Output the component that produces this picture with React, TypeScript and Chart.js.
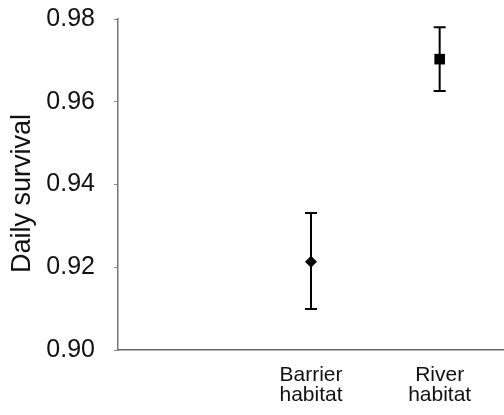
import React, { useEffect, useRef } from "react";
import { Chart, registerables } from "chart.js";

Chart.register(...registerables);

const categories = ["", "Barrier habitat", "River habitat"];
const survival = [null, 0.9213, 0.9703];
const lower = [null, 0.9099, 0.9626];
const upper = [null, 0.9331, 0.978];
const markerStyles = ["circle", "rectRot", "rect"];
const markerSizes = [0, 6, 7.5];
const yTicks = [0.9, 0.92, 0.94, 0.96, 0.98];
const yTitle = "Daily survival";

const FONT = "'Liberation Sans', Arial, Helvetica, sans-serif";

const errorBarPlugin = {
  id: "errorBars",
  beforeDatasetsDraw(chart: any) {
    const { ctx } = chart;
    const xs = chart.scales.x;
    const ys = chart.scales.y;
    ctx.save();
    ctx.strokeStyle = "#000";
    ctx.lineWidth = 2;
    for (let i = 0; i < categories.length; i++) {
      const lo = lower[i];
      const hi = upper[i];
      if (lo == null || hi == null) continue;
      const x = xs.getPixelForValue(i);
      const yl = ys.getPixelForValue(lo);
      const yh = ys.getPixelForValue(hi);
      const cap = 6;
      ctx.beginPath();
      ctx.moveTo(x, yl);
      ctx.lineTo(x, yh);
      ctx.moveTo(x - cap, yl);
      ctx.lineTo(x + cap, yl);
      ctx.moveTo(x - cap, yh);
      ctx.lineTo(x + cap, yh);
      ctx.stroke();
    }
    ctx.restore();
  },
};

const yTitlePlugin = {
  id: "yTitle",
  afterDraw(chart: any) {
    const { ctx } = chart;
    const area = chart.chartArea;
    ctx.save();
    ctx.translate(22.5, (area.top + area.bottom) / 2 + 9);
    ctx.rotate(-Math.PI / 2);
    ctx.font = `27px ${FONT}`;
    ctx.fillStyle = "#111";
    ctx.textAlign = "center";
    ctx.textBaseline = "middle";
    ctx.fillText(yTitle, 0, 0);
    ctx.restore();
  },
};

function zeroPadding(scale: any) {
  scale.paddingTop = 0;
  scale.paddingBottom = 0;
  scale.paddingLeft = 0;
  scale.paddingRight = 0;
}

export default function App() {
  const ref = useRef<HTMLCanvasElement | null>(null);
  useEffect(() => {
    document.body.style.margin = "0";
    const canvas = ref.current;
    if (!canvas) return;
    const chart = new Chart(canvas, {
      type: "line",
      data: {
        labels: categories.map((c) => (c ? c.split(" ") : "")),
        datasets: [
          {
            data: survival as any,
            showLine: false,
            clip: false as any,
            pointStyle: markerStyles as any,
            pointRadius: markerSizes,
            pointHoverRadius: markerSizes,
            pointBackgroundColor: "#000",
            pointBorderColor: "#000",
            pointBorderWidth: 0,
          },
        ],
      },
      options: {
        responsive: false,
        animation: false,
        events: [],
        layout: { autoPadding: false, padding: { top: 19, left: 0, right: 0, bottom: 0 } },
        plugins: {
          legend: { display: false },
          tooltip: { enabled: false },
        },
        scales: {
          x: {
            type: "category",
            offset: true,
            grid: { display: false, drawTicks: false },
            border: { display: true, color: "#666", width: 1.5 },
            ticks: {
              color: "#111",
              font: { family: FONT, size: 21, lineHeight: "20px" as any },
              padding: 15,
              maxRotation: 0,
              autoSkip: false,
            },
            afterFit(scale: any) {
              scale.height = 65;
              zeroPadding(scale);
            },
          },
          y: {
            type: "linear",
            min: 0.9,
            max: 0.98,
            afterBuildTicks(scale: any) {
              scale.ticks = yTicks.map((v) => ({ value: v }));
            },
            grid: {
              display: true,
              drawOnChartArea: false,
              drawTicks: true,
              tickLength: 4,
              color: "#888",
            },
            border: { display: true, color: "#777", width: 1.5 },
            ticks: {
              color: "#111",
              font: { family: FONT, size: 25 },
              padding: 19,
              callback: (v: any) => Number(v).toFixed(2),
            },
            title: { display: false },
            afterFit(scale: any) {
              scale.width = 118;
              zeroPadding(scale);
            },
          },
        },
      },
      plugins: [errorBarPlugin, yTitlePlugin],
    });
    return () => chart.destroy();
  }, []);
  return (
    <div style={{ width: 504, height: 415 }}>
      <canvas ref={ref} width={504} height={415} style={{ display: "block" }} />
    </div>
  );
}
